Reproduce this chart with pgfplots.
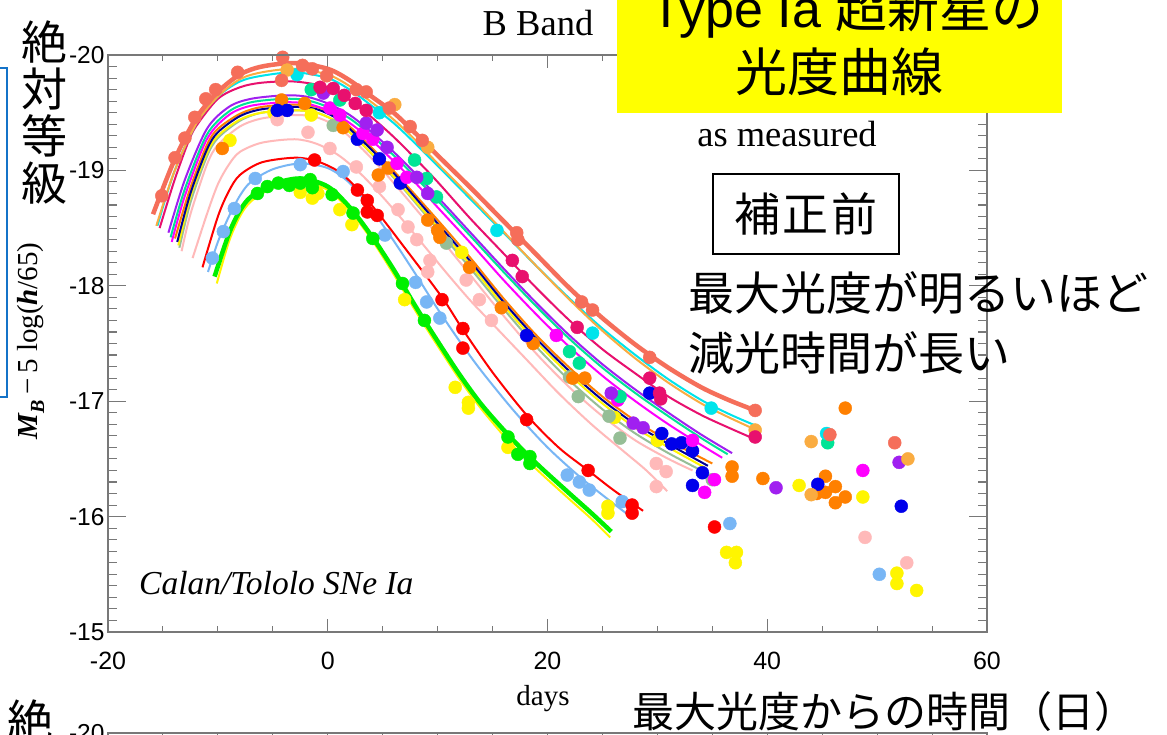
\documentclass[border=0pt]{standalone}
\usepackage{fontspec}
\setmainfont{Liberation Serif}
\newfontfamily\arial{Liberation Sans}
\newfontfamily\cjk{Noto Sans CJK JP}
\usepackage{pgfplots}
\pgfplotsset{compat=1.18}
\definecolor{csalmon}{RGB}{245,110,90}
\definecolor{csandy}{RGB}{250,172,65}
\definecolor{ccyan}{RGB}{0,228,235}
\definecolor{ccrim}{RGB}{232,16,110}
\definecolor{cpurp}{RGB}{160,32,240}
\definecolor{cspring}{RGB}{0,228,150}
\definecolor{cmag}{RGB}{255,0,255}
\definecolor{corange}{RGB}{255,128,0}
\definecolor{cnavy}{RGB}{0,0,150}
\definecolor{cblue}{RGB}{0,0,235}
\definecolor{csea}{RGB}{150,190,150}
\definecolor{cyel}{RGB}{255,245,0}
\definecolor{cpink}{RGB}{255,185,185}
\definecolor{cred}{RGB}{255,0,0}
\definecolor{clblue}{RGB}{120,182,245}
\definecolor{cgreen}{RGB}{0,240,0}
\definecolor{axisgray}{RGB}{120,120,120}
\definecolor{boxyellow}{RGB}{255,255,0}
\definecolor{bracketblue}{RGB}{20,115,200}
\pgfplotsset{
  base/.style={scale only axis, width=879pt, height=577pt,
    xmin=-20, xmax=60, ymin=-20, ymax=-15, y dir=reverse,
    tick align=inside,
    axis line style={draw=axisgray, line width=1.3pt},
    tick style={draw=axisgray, line width=1.1pt}},
  dots/.style={only marks, mark=*, mark size=6.5pt, color=#1},
  thin/.style={color=#1, line width=2pt, smooth, no marks},
  thick/.style={color=#1, line width=4.5pt, smooth, no marks}
}
\begin{document}
\begin{tikzpicture}[x=1pt,y=1pt]
\useasboundingbox (0,0) rectangle (1167,735);
\clip (0,0) rectangle (1167,735);
\fill[white] (0,0) rectangle (1167,735);

\begin{axis}[base, at={(108pt,103pt)}, anchor=south west,
  xtick={-20,0,20,40,60}, xticklabels={{-}20,0,20,40,60},
  minor xtick={-15,-10,-5,5,10,15,25,30,35,45,50,55},
  ytick=\empty, major tick length=13pt, minor tick length=6pt,
  xticklabel style={font=\arial\fontsize{25}{25}\selectfont, yshift=-17pt}]
% ---- template curves ----
\addplot[thin=cyel] coordinates {(-10.1,-18.02) (-9,-18.38) (-8,-18.60) (-7,-18.73) (-5,-18.85) (-2.5,-18.90) (0,-18.83) (2,-18.65) (4,-18.40) (6,-18.10) (8,-17.78) (10,-17.48) (12,-17.19) (14,-16.93) (16.5,-16.65) (19,-16.41) (22,-16.15) (24,-15.98) (25.7,-15.82)};
\addplot[thick=cgreen] coordinates {(-10.3,-18.08) (-9,-18.45) (-8,-18.65) (-7,-18.77) (-5,-18.88) (-2.5,-18.93) (0,-18.86) (2,-18.68) (4,-18.43) (6,-18.14) (8,-17.82) (10,-17.52) (12,-17.23) (14,-16.97) (16.5,-16.70) (19,-16.46) (22,-16.20) (24,-16.03) (25.8,-15.87)};
\addplot[thin=clblue] coordinates {(-10.9,-18.12) (-10,-18.38) (-9,-18.60) (-8,-18.78) (-7,-18.90) (-5,-19.01) (-2.5,-19.06) (0,-19.02) (2,-18.89) (4,-18.66) (6,-18.39) (8,-18.10) (10,-17.80) (12,-17.52) (14,-17.26) (17,-16.91) (20,-16.60) (23,-16.34) (25.5,-16.15) (27.7,-15.99)};
\addplot[thin=cred] coordinates {(-11.4,-18.16) (-10,-18.60) (-9,-18.82) (-8,-18.96) (-6,-19.07) (-3,-19.11) (-1,-19.08) (1,-18.99) (2.7,-18.84) (4.5,-18.64) (7,-18.33) (10.4,-17.90) (12.3,-17.62) (15,-17.25) (18.1,-16.88) (21,-16.60) (23.7,-16.40) (26,-16.23) (28.7,-16.05)};
\addplot[thin=cpink] coordinates {(-12.3,-18.24) (-11,-18.62) (-10,-18.88) (-9,-19.05) (-8,-19.16) (-6,-19.24) (-3,-19.27) (-1,-19.23) (1,-19.13) (3,-18.97) (5,-18.77) (7,-18.55) (9,-18.32) (11,-18.09) (13,-17.87) (15,-17.67) (18,-17.37) (21,-17.07) (24,-16.80) (27,-16.56) (29,-16.40) (30.9,-16.22)};
\addplot[thin=cpink] coordinates {(-13.3,-18.30) (-12.5,-18.62) (-11,-19.05) (-10,-19.22) (-8,-19.38) (-6,-19.45) (-3,-19.48) (-1,-19.46) (1,-19.37) (3,-19.20) (5,-19.00) (7,-18.78) (10,-18.44) (13,-18.09) (16,-17.74) (19,-17.41) (22,-17.12) (25,-16.87) (28,-16.66) (31,-16.50) (33.2,-16.40)};
\addplot[thin=csea] coordinates {(-13.5,-18.33) (-12.5,-18.72) (-11,-19.12) (-10,-19.28) (-8,-19.43) (-6,-19.50) (-3,-19.52) (-1,-19.50) (1,-19.41) (3,-19.24) (5,-19.04) (7,-18.83) (10,-18.49) (13,-18.15) (16,-17.80) (19,-17.47) (22,-17.18) (25,-16.93) (28,-16.72) (31,-16.55) (34,-16.40)};
\addplot[thin=cyel] coordinates {(-13.6,-18.35) (-12.5,-18.77) (-11,-19.15) (-10,-19.30) (-8,-19.44) (-6,-19.50) (-3,-19.52) (-1,-19.50) (1,-19.41) (3,-19.24) (5,-19.05) (7,-18.84) (10,-18.51) (13,-18.18) (16,-17.83) (19,-17.51) (22,-17.23) (25,-16.98) (28,-16.77) (31,-16.60) (34.4,-16.42)};
\addplot[thin=corange] coordinates {(-13.9,-18.41) (-12.5,-18.85) (-11,-19.22) (-10,-19.36) (-8,-19.49) (-6,-19.55) (-3,-19.57) (-1,-19.55) (1,-19.46) (3,-19.29) (5,-19.10) (7,-18.89) (10,-18.57) (13,-18.24) (16,-17.89) (19,-17.57) (22,-17.29) (25,-17.04) (28,-16.83) (31,-16.66) (35,-16.46)};
\addplot[thin=cnavy] coordinates {(-13.7,-18.38) (-12.5,-18.80) (-11,-19.18) (-10,-19.33) (-8,-19.47) (-6,-19.53) (-3,-19.55) (-1,-19.53) (1,-19.44) (3,-19.27) (5,-19.08) (7,-18.87) (10,-18.54) (13,-18.21) (16,-17.86) (19,-17.54) (22,-17.26) (25,-17.01) (28,-16.80) (31,-16.63) (34.6,-16.44)};
\addplot[thin=cmag] coordinates {(-14.2,-18.38) (-13,-18.78) (-11,-19.27) (-9,-19.48) (-7,-19.56) (-4,-19.59) (-2,-19.58) (0,-19.52) (2,-19.41) (4,-19.26) (6,-19.08) (8,-18.89) (10,-18.68) (13,-18.37) (16,-18.05) (19,-17.75) (22,-17.47) (25,-17.22) (28,-17.00) (31,-16.80) (34,-16.62) (35.9,-16.51)};
\addplot[thin=cspring] coordinates {(-14.3,-18.42) (-13,-18.84) (-11,-19.31) (-9,-19.51) (-7,-19.59) (-4,-19.62) (-2,-19.61) (0,-19.55) (2,-19.45) (4,-19.30) (6,-19.13) (8,-18.94) (10,-18.74) (13,-18.43) (16,-18.12) (19,-17.82) (22,-17.54) (25,-17.29) (28,-17.07) (31,-16.87) (34,-16.68) (36.4,-16.54)};
\addplot[thin=cpurp] coordinates {(-14.5,-18.46) (-13,-18.92) (-11,-19.36) (-9,-19.55) (-7,-19.62) (-4,-19.65) (-2,-19.64) (0,-19.58) (2,-19.48) (4,-19.33) (6,-19.16) (8,-18.97) (10,-18.77) (13,-18.46) (16,-18.15) (19,-17.85) (22,-17.57) (25,-17.32) (28,-17.10) (31,-16.90) (34,-16.71) (36.8,-16.55)};
\addplot[thin=ccrim] coordinates {(-15.3,-18.50) (-14,-18.90) (-12.8,-19.22) (-12,-19.38) (-10,-19.62) (-8,-19.72) (-6,-19.76) (-3,-19.77) (0,-19.72) (2,-19.61) (4,-19.46) (6,-19.29) (8,-19.10) (10,-18.90) (13,-18.58) (16,-18.28) (19,-17.98) (22,-17.70) (25,-17.45) (28,-17.24) (31,-17.04) (34,-16.88) (36.5,-16.77) (38.9,-16.67)};
\addplot[thin=ccyan] coordinates {(-15.5,-18.52) (-14,-18.98) (-12,-19.40) (-10,-19.64) (-8,-19.77) (-6,-19.82) (-3,-19.85) (0,-19.80) (2,-19.70) (4,-19.56) (6,-19.41) (8,-19.23) (10,-19.04) (13,-18.75) (16,-18.46) (19,-18.17) (22,-17.89) (25,-17.63) (28,-17.40) (31,-17.19) (34,-17.01) (36.5,-16.89) (38.9,-16.79)};
\addplot[thin=csandy] coordinates {(-15.6,-18.52) (-14,-18.98) (-12,-19.40) (-10,-19.64) (-8,-19.79) (-6,-19.85) (-3,-19.88) (0,-19.83) (2,-19.73) (4,-19.59) (6,-19.44) (8,-19.26) (10,-19.06) (13,-18.77) (16,-18.47) (19,-18.17) (22,-17.88) (25,-17.61) (28,-17.37) (31,-17.16) (34,-16.98) (36.5,-16.86) (39,-16.75)};
\addplot[thick=csalmon] coordinates {(-15.9,-18.62) (-14,-19.08) (-12,-19.45) (-10,-19.68) (-8,-19.83) (-6,-19.90) (-3,-19.93) (0,-19.88) (2,-19.78) (4,-19.64) (6,-19.50) (8,-19.32) (10,-19.13) (13,-18.85) (16,-18.56) (19,-18.27) (22,-17.98) (25,-17.72) (28,-17.49) (31,-17.29) (34,-17.12) (36.5,-17.01) (38.9,-16.92)};
% ---- observations ----
\addplot[dots=cyel] coordinates {(-8.9,-19.26) (-4.9,-19.50) (-1.5,-19.48) (12.2,-18.29) (26.1,-16.86) (30.0,-16.66) (42.9,-16.27) (48.7,-16.17) (-2.5,-18.81) (-1.4,-18.76) (-0.9,-18.80) (1.1,-18.66) (2.2,-18.53) (7.0,-17.88) (11.6,-17.12) (12.8,-16.99) (12.8,-16.94) (16.4,-16.60) (25.5,-16.03) (25.5,-16.09) (36.3,-15.69) (37.2,-15.69) (37.1,-15.60) (51.8,-15.51) (51.8,-15.42) (53.6,-15.36)};
\addplot[dots=cpink] coordinates {(-4.6,-19.44) (-1.8,-19.33) (0.2,-19.19) (2.6,-19.03) (4.7,-18.86) (6.4,-18.66) (7.3,-18.51) (8.1,-18.40) (9.3,-18.22) (9.1,-18.12) (12.6,-18.05) (13.8,-17.88) (14.9,-17.70) (29.9,-16.46) (30.8,-16.39) (29.9,-16.26) (48.9,-15.82) (52.7,-15.60)};
\addplot[dots=csea] coordinates {(0.5,-19.39) (10.8,-18.37) (22.0,-17.21) (22.8,-17.04) (25.6,-16.87) (26.6,-16.68) (35.0,-16.32)};
\addplot[dots=clblue] coordinates {(-10.5,-18.24) (-9.5,-18.47) (-8.5,-18.67) (-6.6,-18.93) (-2.5,-19.05) (1.4,-18.99) (5.2,-18.44) (8.0,-18.03) (9.0,-17.86) (10.2,-17.72) (21.8,-16.36) (22.9,-16.30) (23.8,-16.23) (26.8,-16.13) (36.6,-15.94) (50.2,-15.50)};
\addplot[dots=cred] coordinates {(-1.2,-19.09) (2.7,-18.83) (3.6,-18.74) (3.6,-18.64) (4.5,-18.61) (10.4,-17.88) (12.3,-17.63) (12.3,-17.46) (18.1,-16.84) (23.7,-16.40) (27.7,-16.10) (27.7,-16.03) (35.2,-15.91)};
\addplot[dots=cgreen] coordinates {(-6.4,-18.80) (-5.5,-18.86) (-4.5,-18.89) (-3.5,-18.87) (-2.5,-18.89) (-1.6,-18.92) (-1.4,-18.85) (0.4,-18.79) (2.3,-18.63) (4.1,-18.41) (6.8,-18.02) (8.8,-17.70) (16.4,-16.69) (17.3,-16.54) (18.4,-16.52) (18.4,-16.46)};
\addplot[dots=corange] coordinates {(-9.6,-19.19) (-4.2,-19.61) (-2.1,-19.58) (1.4,-19.37) (4.6,-18.96) (5.5,-19.02) (9.1,-18.57) (10.0,-18.48) (10.2,-18.42) (12.9,-18.16) (15.8,-17.81) (18.7,-17.50) (22.3,-17.20) (23.4,-17.20) (36.8,-16.43) (36.8,-16.35) (39.6,-16.33) (47.1,-16.94) (45.3,-16.35) (46.2,-16.26) (45.3,-16.21) (47.1,-16.17) (46.2,-16.12) (44.5,-16.20)};
\addplot[dots=cblue] coordinates {(-4.6,-19.52) (-3.7,-19.52) (2.7,-19.27) (4.7,-19.10) (6.6,-18.89) (18.1,-17.57) (29.3,-17.07) (30.4,-16.72) (31.3,-16.63) (32.2,-16.64) (33.2,-16.57) (34.1,-16.38) (33.2,-16.27) (44.6,-16.28) (52.2,-16.09)};
\addplot[dots=cmag] coordinates {(0.2,-19.54) (1.1,-19.48) (3.2,-19.32) (4.1,-19.27) (6.3,-19.06) (7.2,-18.94) (20.8,-17.57) (26.4,-17.01) (33.2,-16.66) (35.2,-16.32) (34.3,-16.21) (48.7,-16.40)};
\addplot[dots=cspring] coordinates {(-1.5,-19.70) (1.1,-19.61) (7.9,-19.09) (9.0,-18.93) (9.9,-18.77) (22.0,-17.43) (22.9,-17.33) (26.6,-17.04) (45.5,-16.64)};
\addplot[dots=cpurp] coordinates {(-0.4,-19.67) (3.5,-19.41) (4.5,-19.35) (5.4,-19.20) (8.1,-18.94) (9.1,-18.80) (25.8,-17.07) (27.8,-16.81) (28.7,-16.77) (40.8,-16.25) (52.0,-16.47)};
\addplot[dots=ccyan] coordinates {(-2.8,-19.83) (4.7,-19.50) (15.4,-18.48) (24.1,-17.59) (34.9,-16.94) (45.4,-16.72)};
\addplot[dots=csandy] coordinates {(-3.7,-19.87) (6.1,-19.57) (9.1,-19.20) (38.9,-16.75) (44.0,-16.65) (52.8,-16.50) (44.0,-16.19)};
\addplot[dots=ccrim] coordinates {(-0.7,-19.72) (0.5,-19.71) (1.5,-19.65) (2.5,-19.58) (3.5,-19.52) (16.8,-18.22) (17.7,-18.08) (22.7,-17.64) (29.3,-17.20) (30.2,-17.07) (30.3,-17.02) (38.9,-16.69)};
\addplot[dots=csalmon] coordinates {(-15.1,-18.78) (-13.9,-19.11) (-13.0,-19.28) (-12.1,-19.46) (-11.1,-19.62) (-10.2,-19.70) (-8.2,-19.85) (-4.1,-19.98) (-4.2,-19.78) (-2.3,-19.91) (-1.4,-19.88) (-0.1,-19.82) (2.6,-19.70) (3.5,-19.68) (5.6,-19.54) (7.5,-19.38) (8.6,-19.26) (17.2,-18.46) (17.3,-18.40) (23.1,-17.86) (24.1,-17.79) (29.3,-17.38) (38.9,-16.92) (45.7,-16.71) (51.6,-16.64)};
\end{axis}

% y ticks (longer) on a second, empty axis
\begin{axis}[base, at={(108pt,103pt)}, anchor=south west,
  xtick=\empty, ytick={-20,-19,-18,-17,-16,-15},
  yticklabels={{-}20,{-}19,{-}18,{-}17,{-}16,{-}15},
  minor y tick num=9, major tick length=18pt, minor tick length=9pt,
  yticklabel style={font=\arial\fontsize{24.5}{24.5}\selectfont}]
\end{axis}

% top edge of the next panel, cut by the page
\begin{axis}[base, at={(108pt,2pt)}, anchor=north west,
  xtick={-20,0,20,40,60}, xticklabels={},
  minor xtick={-15,-10,-5,5,10,15,25,30,35,45,50,55},
  ytick={-20}, yticklabels={{-}20},
  major tick length=13pt, minor tick length=6pt,
  yticklabel style={font=\arial\fontsize{24.5}{24.5}\selectfont}]
\end{axis}

% annotations
\node[inner sep=0, anchor=base, font=\fontsize{36.5}{36.5}\selectfont] at (538,699) {B Band};
\node[inner sep=0, anchor=base, font=\fontsize{36.5}{36.5}\selectfont] at (787,588) {as measured};
\node[inner sep=0, anchor=base west, font=\itshape\fontsize{33.5}{33.5}\selectfont] at (139,140) {Calan/Tololo SNe Ia};
\node[inner sep=0, anchor=base, font=\fontsize{29}{29}\selectfont] at (543,29) {days};

\fill[boxyellow] (617,622) rectangle (1062,745);
\node[inner sep=0, anchor=base, font=\arial\fontsize{52}{52}\selectfont] at (847,707) {Type Ia {\cjk 超新星の}};
\node[inner sep=0, anchor=base, font=\cjk\fontsize{52}{52}\selectfont] at (839,643) {光度曲線};

\draw[line width=2pt] (713,561) rectangle (899,481);
\node[inner sep=0, font=\cjk\fontsize{46}{46}\selectfont] at (806,521) {補\hspace{3pt}正\hspace{3pt}前};
\node[inner sep=0, anchor=west, font=\cjk\fontsize{46}{46}\selectfont] at (688,442) {最大光度が明るいほど};
\node[inner sep=0, anchor=west, font=\cjk\fontsize{46}{46}\selectfont] at (688,382) {減光時間が長い};

\node[inner sep=0, align=center, font=\cjk\fontsize{46}{47}\selectfont] at (44,622) {絶\\対\\等\\級};
\node[inner sep=0, anchor=west, font=\cjk\fontsize{42}{42}\selectfont] at (632,23) {最大光度からの時間（日）};
\node[inner sep=0, font=\cjk\fontsize{46}{46}\selectfont] at (30,14) {絶};

\node[rotate=90, inner sep=0] at (31,394) {\fontsize{29}{29}\selectfont\textbf{\textit{M}}\raisebox{-0.22em}{\fontsize{20}{20}\selectfont\textbf{\textit{B}}}\,−\,5 log(\textbf{\textit{h}}/65)};

\draw[draw=bracketblue, line width=2pt] (-20,667) -- (7,667) -- (7,338) -- (-20,338);
\end{tikzpicture}
\end{document}
